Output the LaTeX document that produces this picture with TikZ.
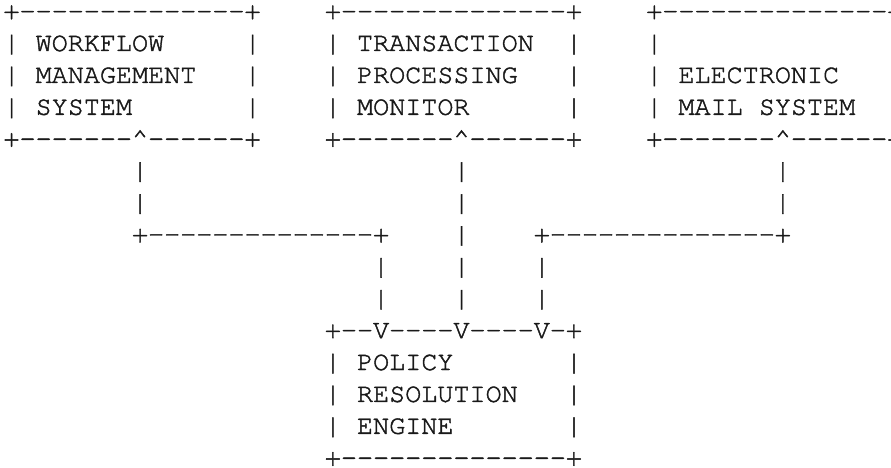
\documentclass[tikz,border=0pt]{standalone}
\usepackage{fontspec}
\setmonofont[FakeBold=1.6]{TeX Gyre Cursor}
\newcommand\ascfont{\ttfamily\fontsize{26.78pt}{31.9pt}\selectfont}
\newcommand\caret{\textasciicircum}
\tikzset{asc/.style={anchor=base west, inner sep=0pt, outer sep=0pt, text height=15pt, text depth=0pt, font=\ascfont, text=black!90}}
\newcommand\cell[4]{\node[asc] (#1) at ({3.5pt+16.07pt*#2},{-19.1pt-31.9pt*#3}) {#4};}
\begin{document}
\begin{tikzpicture}
\useasboundingbox (0,0) rectangle (891pt,-468pt);
% top boxes
\cell{aT}{0}{0}{+--------------+}
\cell{bT}{20}{0}{+--------------+}
\cell{cT}{40}{0}{+--------------+}
\cell{aL1}{0}{1}{|}\cell{aX1}{2}{1}{WORKFLOW}\cell{aR1}{15}{1}{|}
\cell{bL1}{20}{1}{|}\cell{bX1}{22}{1}{TRANSACTION}\cell{bR1}{35}{1}{|}
\cell{cL1}{40}{1}{|}
\cell{aL2}{0}{2}{|}\cell{aX2}{2}{2}{MANAGEMENT}\cell{aR2}{15}{2}{|}
\cell{bL2}{20}{2}{|}\cell{bX2}{22}{2}{PROCESSING}\cell{bR2}{35}{2}{|}
\cell{cL2}{40}{2}{|}\cell{cX2}{42}{2}{ELECTRONIC}
\cell{aL3}{0}{3}{|}\cell{aX3}{2}{3}{SYSTEM}\cell{aR3}{15}{3}{|}
\cell{bL3}{20}{3}{|}\cell{bX3}{22}{3}{MONITOR}\cell{bR3}{35}{3}{|}
\cell{cL3}{40}{3}{|}\cell{cX3}{42}{3}{MAIL SYSTEM}
\cell{aB}{0}{4}{+-------\caret------+}
\cell{bB}{20}{4}{+-------\caret------+}
\cell{cB}{40}{4}{+-------\caret------+}
% connectors
\cell{v5a}{8}{5}{|}\cell{v5b}{28}{5}{|}\cell{v5c}{48}{5}{|}
\cell{v6a}{8}{6}{|}\cell{v6b}{28}{6}{|}\cell{v6c}{48}{6}{|}
\cell{h7a}{8}{7}{+--------------+}\cell{v7b}{28}{7}{|}\cell{h7c}{33}{7}{+--------------+}
\cell{v8a}{23}{8}{|}\cell{v8b}{28}{8}{|}\cell{v8c}{33}{8}{|}
\cell{v9a}{23}{9}{|}\cell{v9b}{28}{9}{|}\cell{v9c}{33}{9}{|}
% bottom box
\cell{dT}{20}{10}{+--V----V----V-+}
\cell{dL1}{20}{11}{|}\cell{dX1}{22}{11}{POLICY}\cell{dR1}{35}{11}{|}
\cell{dL2}{20}{12}{|}\cell{dX2}{22}{12}{RESOLUTION}\cell{dR2}{35}{12}{|}
\cell{dL3}{20}{13}{|}\cell{dX3}{22}{13}{ENGINE}\cell{dR3}{35}{13}{|}
\cell{dB}{20}{14}{+--------------+}
\end{tikzpicture}
\end{document}
